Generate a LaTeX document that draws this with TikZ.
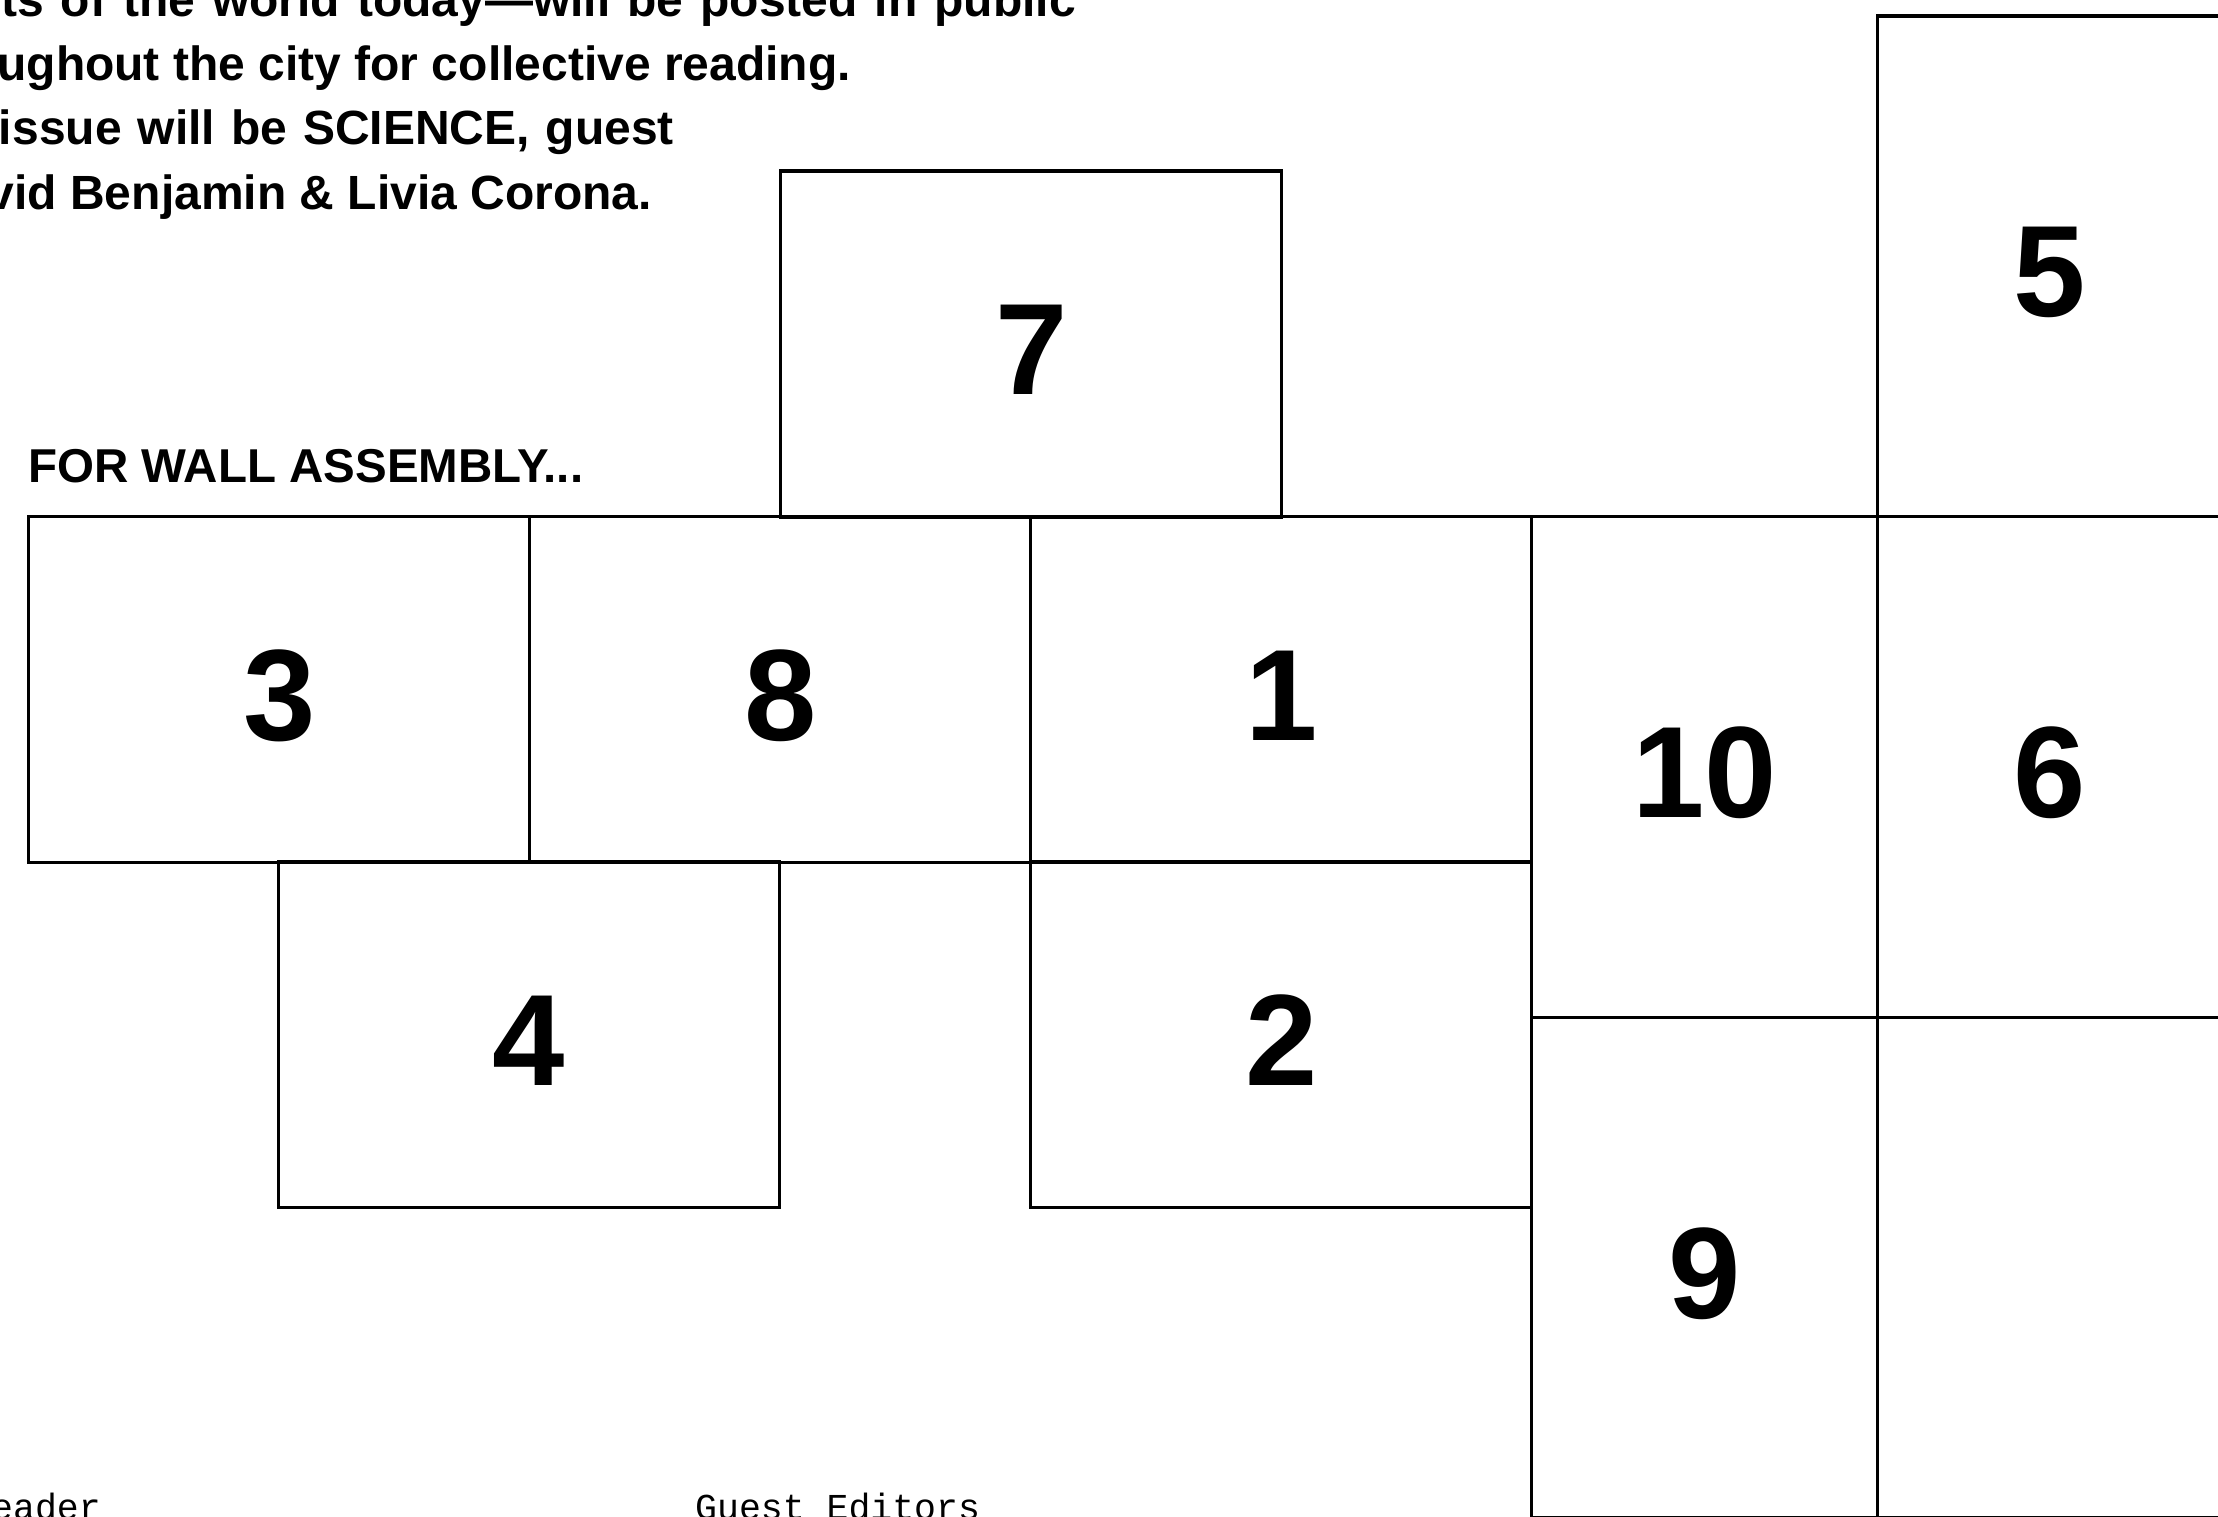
\documentclass[tikz,border=0pt]{standalone}
\usepackage{fontspec}
\setmainfont{Liberation Sans}
\newfontfamily\grot{Liberation Sans}
\newfontfamily\monof{Liberation Mono}
\begin{document}
\begin{tikzpicture}[x=1pt,y=-1pt,
  panel/.style={draw=black, line width=3.4pt, fill=none, inner sep=0pt, outer sep=0pt,
    text height=101pt, text depth=0pt,
    font=\fontsize{130}{130}\selectfont\bfseries},
  wide/.style={panel, minimum width=501pt, minimum height=345.6pt},
  tall/.style={panel, minimum width=345.6pt, minimum height=500.6pt},
  intro/.style={font=\grot\fontsize{48}{64}\selectfont\bfseries, anchor=base east, inner sep=0pt},
  head/.style={font=\grot\fontsize{47.5}{64}\selectfont\bfseries, anchor=base west, inner sep=0pt},
  foot/.style={font=\monof\fontsize{36.5}{40}\selectfont, anchor=base west, inner sep=0pt}]
\useasboundingbox[fill=white] (0,0) rectangle (2218,1517);
% intro text (cut at left and top)
\node[intro] (t1) at (1076,17) {\spaceskip=17pt ts of the world today—will be posted in public};
\node[intro] (t2) at (851,81) {ughout the city for collective reading.};
\node[intro] (t3) at (674,145) {\spaceskip=16pt issue will be SCIENCE, guest};
\node[intro] (t4) at (652,209) {vid Benjamin \& Livia Corona.};
\node[head] (hd) at (28,482) {FOR WALL ASSEMBLY...};
% panels
\node[wide] (p7) at (1031.2,344) {7};
\node[wide] (p3) at (279.2,689.5) {3};
\node[wide] (p8) at (780.2,689.5) {8};
\node[wide] (p1) at (1281.2,689.5) {1};
\node[wide] (p4) at (528.8,1034.8) {4};
\node[wide] (p2) at (1281.2,1034.8) {2};
\node[tall] (p10) at (1704.5,767) {10};
\node[tall] (p9) at (1704.5,1267.6) {9};
\node[tall] (p5) at (2050.1,266.4) {5};
\node[tall] (p6) at (2050.1,767) {6};
\node[tall] (p0) at (2050.1,1267.6) {};
% footer text (cut at bottom)
\node[foot] (f1) at (-9,1519) {eader};
\node[foot] (f2) at (695,1519) {Guest Editors};
\end{tikzpicture}
\end{document}
